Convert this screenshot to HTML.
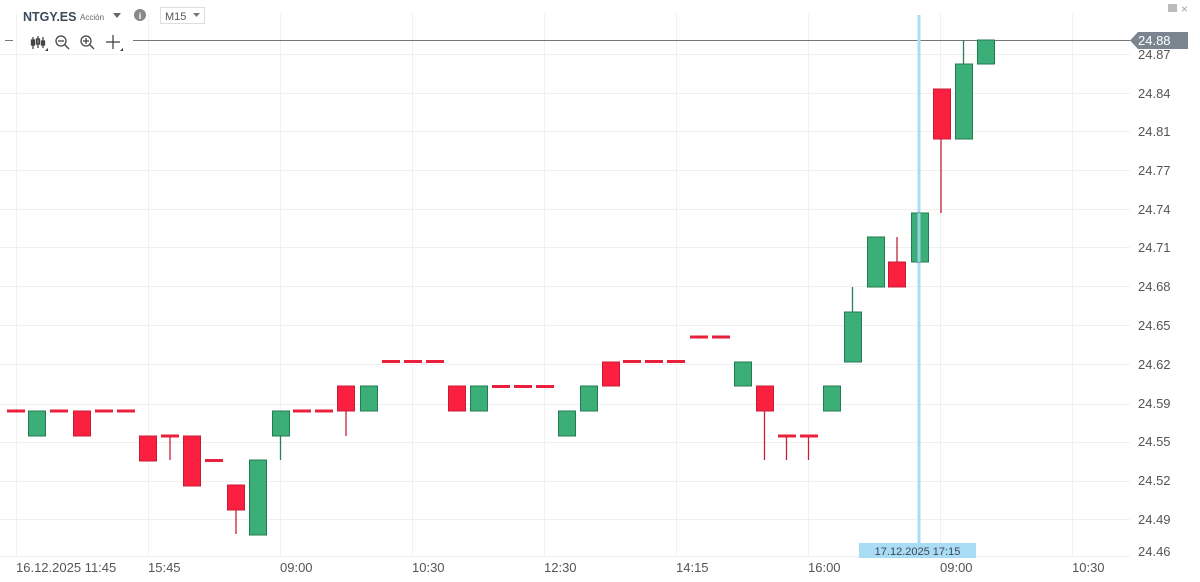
<!DOCTYPE html>
<html><head><meta charset="utf-8"><style>
body{margin:0;background:#fff;width:1200px;height:582px;overflow:hidden;font-family:"Liberation Sans",sans-serif}
svg{display:block}
</style></head><body>
<svg width="1200" height="582" xmlns="http://www.w3.org/2000/svg" font-family="Liberation Sans, sans-serif">
<g stroke="#f0f0f0" stroke-width="1">
<line x1="16.5" y1="14" x2="16.5" y2="556"/><line x1="148.5" y1="14" x2="148.5" y2="556"/><line x1="280.5" y1="14" x2="280.5" y2="556"/><line x1="412.5" y1="14" x2="412.5" y2="556"/><line x1="544.5" y1="14" x2="544.5" y2="556"/><line x1="676.5" y1="14" x2="676.5" y2="556"/><line x1="808.5" y1="14" x2="808.5" y2="556"/><line x1="940.5" y1="14" x2="940.5" y2="556"/><line x1="1072.5" y1="14" x2="1072.5" y2="556"/>
<line x1="0" y1="54.5" x2="1130" y2="54.5"/><line x1="0" y1="93.5" x2="1130" y2="93.5"/><line x1="0" y1="131.5" x2="1130" y2="131.5"/><line x1="0" y1="170.5" x2="1130" y2="170.5"/><line x1="0" y1="209.5" x2="1130" y2="209.5"/><line x1="0" y1="247.5" x2="1130" y2="247.5"/><line x1="0" y1="286.5" x2="1130" y2="286.5"/><line x1="0" y1="325.5" x2="1130" y2="325.5"/><line x1="0" y1="364.5" x2="1130" y2="364.5"/><line x1="0" y1="404.5" x2="1130" y2="404.5"/><line x1="0" y1="442.5" x2="1130" y2="442.5"/><line x1="0" y1="481.5" x2="1130" y2="481.5"/><line x1="0" y1="519.5" x2="1130" y2="519.5"/><line x1="0" y1="556.5" x2="1130" y2="556.5"/>
</g>
<line x1="133" y1="40.5" x2="1130" y2="40.5" stroke="#777" stroke-width="1"/>
<line x1="5" y1="40.5" x2="13" y2="40.5" stroke="#777" stroke-width="1"/>
<rect x="917.5" y="15" width="3" height="530" fill="#a9dcf5"/>
<g stroke-width="1.3">
<line x1="170" y1="436" x2="170" y2="460" stroke="#c2223a"/>
<line x1="236" y1="510" x2="236" y2="534" stroke="#c2223a"/>
<line x1="280.5" y1="436" x2="280.5" y2="460" stroke="#2a7f55"/>
<line x1="346" y1="411" x2="346" y2="436" stroke="#c2223a"/>
<line x1="764.5" y1="411" x2="764.5" y2="460" stroke="#c2223a"/>
<line x1="786.5" y1="436" x2="786.5" y2="460" stroke="#c2223a"/>
<line x1="808.5" y1="436" x2="808.5" y2="460" stroke="#c2223a"/>
<line x1="852.5" y1="287" x2="852.5" y2="312" stroke="#2a7f55"/>
<line x1="897" y1="237" x2="897" y2="262" stroke="#c2223a"/>
<line x1="941" y1="139" x2="941" y2="213" stroke="#c2223a"/>
<line x1="963.5" y1="40" x2="963.5" y2="65" stroke="#2a7f55"/>
</g>
<g fill="#e8203c">
<rect x="7" y="409.5" width="18" height="3"/><rect x="50" y="409.5" width="18" height="3"/><rect x="95" y="409.5" width="18" height="3"/><rect x="117" y="409.5" width="18" height="3"/>
<rect x="161" y="434.5" width="18" height="3"/><rect x="205" y="459" width="18" height="3"/>
<rect x="293" y="409.5" width="18" height="3"/><rect x="315" y="409.5" width="18" height="3"/>
<rect x="382" y="360" width="18" height="3"/><rect x="404" y="360" width="18" height="3"/><rect x="426" y="360" width="18" height="3"/>
<rect x="492" y="385" width="18" height="3"/><rect x="514" y="385" width="18" height="3"/><rect x="536" y="385" width="18" height="3"/>
<rect x="623" y="360" width="18" height="3"/><rect x="645" y="360" width="18" height="3"/><rect x="667" y="360" width="18" height="3"/>
<rect x="690" y="335.5" width="18" height="3"/><rect x="712" y="335.5" width="18" height="3"/>
<rect x="778" y="434.5" width="18" height="3"/><rect x="800" y="434.5" width="18" height="3"/>
</g>
<g fill="#fb2040" stroke="#c81c36" stroke-width="1">
<rect x="73.5" y="411" width="17" height="25"/>
<rect x="139.5" y="436" width="17" height="25"/>
<rect x="183.5" y="436" width="17" height="50"/>
<rect x="227.5" y="485" width="17" height="25"/>
<rect x="337.5" y="386" width="17" height="25"/>
<rect x="448.5" y="386" width="17" height="25"/>
<rect x="602.5" y="362" width="17" height="24"/>
<rect x="756.5" y="386" width="17" height="25"/>
<rect x="888.5" y="262" width="17" height="25"/>
<rect x="933.5" y="89" width="17" height="50"/>
</g>
<g fill="#3cae77" stroke="#237a50" stroke-width="1">
<rect x="28.5" y="411" width="17" height="25"/>
<rect x="249.5" y="460" width="17" height="75"/>
<rect x="272.5" y="411" width="17" height="25"/>
<rect x="360.5" y="386" width="17" height="25"/>
<rect x="470.5" y="386" width="17" height="25"/>
<rect x="558.5" y="411" width="17" height="25"/>
<rect x="580.5" y="386" width="17" height="25"/>
<rect x="734.5" y="362" width="17" height="24"/>
<rect x="823.5" y="386" width="17" height="25"/>
<rect x="844.5" y="312" width="17" height="50"/>
<rect x="867.5" y="237" width="17" height="50"/>
<rect x="911.5" y="213" width="17" height="49"/>
<rect x="955.5" y="64" width="17" height="75"/>
<rect x="977.5" y="40" width="17" height="24"/>
</g>
<rect x="917.5" y="213" width="3" height="49" fill="#a9dcf5" opacity="0.8"/>
<g font-size="13" fill="#555" text-anchor="start">
<text x="1138" y="59">24.87</text><text x="1138" y="98">24.84</text><text x="1138" y="136">24.81</text><text x="1138" y="175">24.77</text><text x="1138" y="214">24.74</text><text x="1138" y="252">24.71</text><text x="1138" y="291">24.68</text><text x="1138" y="330">24.65</text><text x="1138" y="369">24.62</text><text x="1138" y="408">24.59</text><text x="1138" y="446">24.55</text><text x="1138" y="485">24.52</text><text x="1138" y="524">24.49</text><text x="1138" y="556">24.46</text>
</g>
<path d="M1130 40.5 L1138 32 L1188 32 L1188 49 L1138 49 Z" fill="#7b858f"/>
<text x="1138" y="45" font-size="13" fill="#fff">24.88</text>
<g font-size="13" fill="#555">
<text x="16" y="572">16.12.2025 11:45</text><text x="148" y="572">15:45</text><text x="280" y="572">09:00</text><text x="412" y="572">10:30</text><text x="544" y="572">12:30</text><text x="676" y="572">14:15</text><text x="808" y="572">16:00</text><text x="940" y="572">09:00</text><text x="1072" y="572">10:30</text>
</g>
<rect x="859" y="543" width="117" height="15" fill="#a9dcf5"/>
<text x="917.5" y="555" font-size="11" fill="#445" text-anchor="middle">17.12.2025 17:15</text>
<text x="23" y="21" font-size="12.5" font-weight="bold" fill="#3c4a5a">NTGY.ES</text>
<text x="80" y="20" font-size="8" fill="#666">Acción</text>
<path d="M113 13 L121 13 L117 18 Z" fill="#666"/>
<circle cx="140" cy="15" r="6" fill="#888"/><text x="140" y="19" font-size="9" font-weight="bold" fill="#fff" text-anchor="middle">i</text>
<rect x="160.5" y="7.5" width="44" height="16" fill="#fff" stroke="#ddd"/>
<text x="165" y="20" font-size="11" fill="#555">M15</text>
<path d="M193 13 L200 13 L196.5 17 Z" fill="#777"/>
<g stroke="#444" stroke-width="1.3" fill="none">
<line x1="33" y1="37" x2="33" y2="49"/><line x1="38" y1="36" x2="38" y2="48"/><line x1="43" y1="37" x2="43" y2="48"/>
<rect x="31.5" y="40" width="3" height="5" fill="#444"/><rect x="36.5" y="39" width="3" height="5"/><rect x="41.5" y="41" width="3" height="4" fill="#444"/>
<circle cx="61" cy="41" r="5"/><line x1="65" y1="45" x2="69" y2="49"/><line x1="58" y1="41" x2="64" y2="41"/>
<circle cx="86" cy="41" r="5"/><line x1="90" y1="45" x2="94" y2="49"/><line x1="83" y1="41" x2="89" y2="41"/><line x1="86" y1="38" x2="86" y2="44"/>
<line x1="106" y1="42" x2="120" y2="42"/><line x1="113" y1="35" x2="113" y2="49"/>
</g>
<path d="M45 51 L48 51 L48 48 Z M120 51 L123 51 L123 48 Z" fill="#333"/>
<rect x="1168" y="4" width="9" height="8" fill="#bbb"/>
<text x="1181" y="13" font-size="12" fill="#aaa">×</text>
</svg>
</body></html>
